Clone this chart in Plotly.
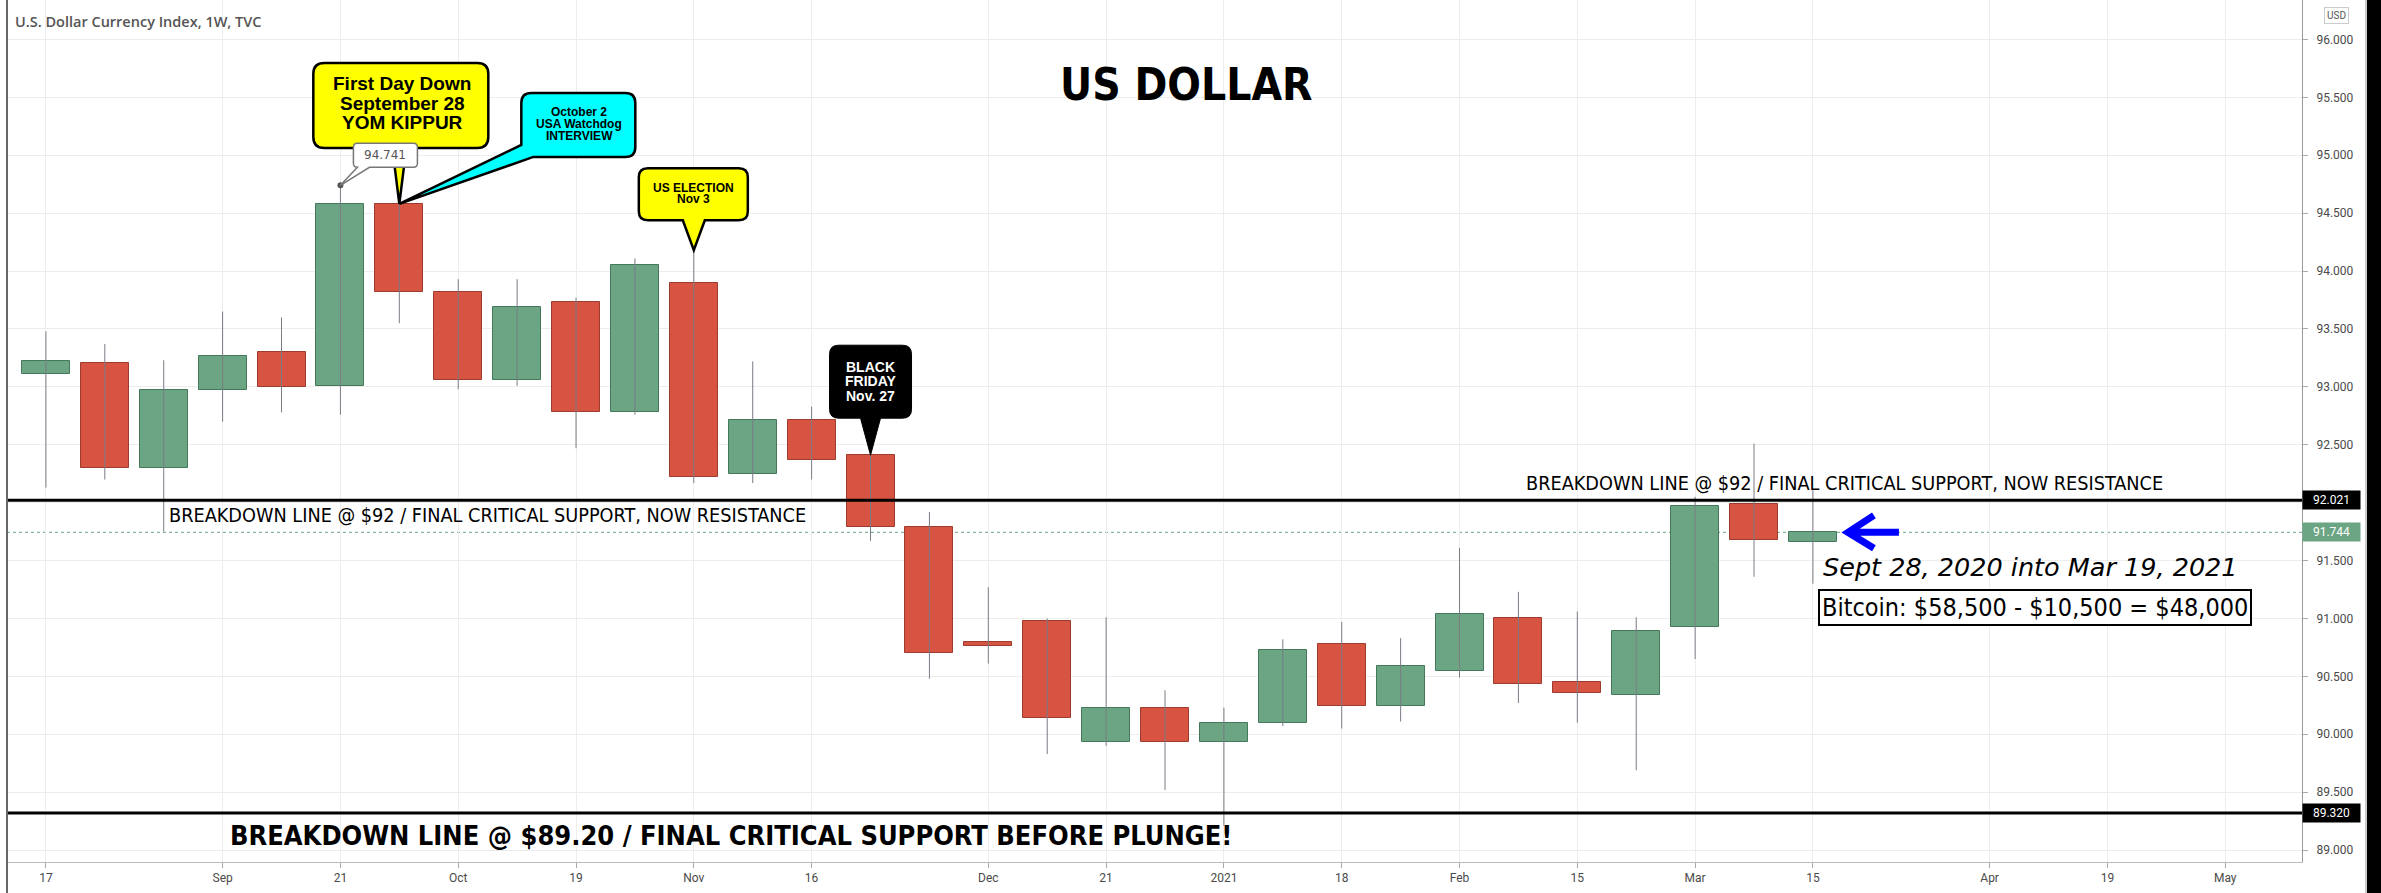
import plotly.graph_objects as go

# ---------------- data (weekly DXY candles) ----------------
dates = ['2020-08-17', '2020-08-24', '2020-08-31', '2020-09-07', '2020-09-14', '2020-09-21',
         '2020-09-28', '2020-10-05', '2020-10-12', '2020-10-19', '2020-10-26', '2020-11-02',
         '2020-11-09', '2020-11-16', '2020-11-23', '2020-11-30', '2020-12-07', '2020-12-14',
         '2020-12-21', '2020-12-28', '2021-01-04', '2021-01-11', '2021-01-18', '2021-01-25',
         '2021-02-01', '2021-02-08', '2021-02-15', '2021-02-22', '2021-03-01', '2021-03-08',
         '2021-03-15']
open_ = [93.11, 93.21, 92.30, 92.97, 93.30, 93.01, 94.58, 93.82, 93.06, 93.73, 92.78, 93.90,
         92.25, 92.71, 92.41, 91.79, 90.80, 90.98, 89.93, 90.23, 89.93, 90.10, 90.78, 90.24,
         90.55, 91.00, 90.45, 90.34, 90.93, 91.99, 91.66]
high = [93.48, 93.37, 93.23, 93.65, 93.60, 94.741, 94.60, 93.93, 93.93, 93.77, 94.11, 94.18,
        93.22, 92.83, 92.59, 91.92, 91.27, 91.00, 91.01, 90.38, 90.23, 90.82, 90.97, 90.83,
        91.61, 91.23, 91.06, 91.01, 92.05, 92.51, 92.12]
low = [92.13, 92.20, 91.75, 92.70, 92.78, 92.76, 93.55, 92.98, 93.01, 92.47, 92.76, 92.17,
       92.17, 92.20, 91.67, 90.48, 90.61, 89.83, 89.90, 89.52, 89.21, 90.07, 90.05, 90.11,
       90.49, 90.27, 90.10, 89.69, 90.65, 91.36, 91.30]
close = [93.22, 92.30, 92.97, 93.27, 93.00, 94.58, 93.82, 93.06, 93.69, 92.78, 94.05, 92.22,
         92.71, 92.37, 91.79, 90.70, 90.76, 90.14, 90.23, 89.93, 90.10, 90.73, 90.24, 90.59,
         91.04, 90.43, 90.36, 90.89, 91.97, 91.68, 91.744]

tick_dates = ['2020-08-17', '2020-09-07', '2020-09-21', '2020-10-05', '2020-10-19', '2020-11-02',
              '2020-11-16', '2020-12-07', '2020-12-21', '2021-01-04', '2021-01-18', '2021-02-01',
              '2021-02-15', '2021-03-01', '2021-03-15', '2021-04-05', '2021-04-19', '2021-05-03']
tick_text = ['17', 'Sep', '21', 'Oct', '19', 'Nov', '16', 'Dec', '21', '2021', '18', 'Feb',
             '15', 'Mar', '15', 'Apr', '19', 'May']

resistance_level = 92.021
support_level = 89.320
last_price = close[-1]

# ---------------- layout constants ----------------
W, H = 2381, 893
ML, MR, MT, MB = 7, 79, 0, 31
PW, PH = W - ML - MR, H - MT - MB

def px(x):
    return (x - ML) / PW

def py(y):
    return 1 - (y - MT) / PH

UP, DOWN = '#6BA583', '#D75442'
UP_LINE, DOWN_LINE = '#44785A', '#9E3B2F'
TVFONT = 'DejaVu Sans Condensed, DejaVu Sans, sans-serif'
ARIAL = 'Liberation Sans, Arial, sans-serif'
DAY_MS = 86400000

fig = go.Figure()

# wicks
wx, wy = [], []
for d, h, l in zip(dates, high, low):
    wx += [d, d, None]
    wy += [l, h, None]
fig.add_trace(go.Scatter(x=wx, y=wy, mode='lines', line=dict(color='#7A7C85', width=1),
                         hoverinfo='skip', showlegend=False))

# bodies
colors = [UP if c >= o else DOWN for o, c in zip(open_, close)]
lcolors = [UP_LINE if c >= o else DOWN_LINE for o, c in zip(open_, close)]
fig.add_trace(go.Bar(x=dates, y=[abs(c - o) for o, c in zip(open_, close)],
                     base=[min(o, c) for o, c in zip(open_, close)],
                     width=0.815 * 7 * DAY_MS,
                     marker=dict(color=colors, line=dict(color=lcolors, width=1)),
                     hoverinfo='skip', showlegend=False))

# peak marker dot
ipk = high.index(max(high))
fig.add_trace(go.Scatter(x=[dates[ipk]], y=[high[ipk]], mode='markers',
                         marker=dict(color='#555555', size=6), hoverinfo='skip', showlegend=False))

shapes = []
annotations = []

# horizontal levels
for lv in (resistance_level, support_level):
    shapes.append(dict(type='line', xref='paper', x0=0, x1=1, yref='y', y0=lv, y1=lv,
                       line=dict(color='black', width=3), layer='above'))
shapes.append(dict(type='line', xref='paper', x0=0, x1=1, yref='y', y0=last_price, y1=last_price,
                   line=dict(color=UP, width=1, dash='dot'), layer='below'))

# left border and right dark strip
shapes.append(dict(type='line', xref='paper', yref='paper', x0=0, x1=0, y0=py(H), y1=1,
                   line=dict(color='#666666', width=2)))
shapes.append(dict(type='rect', xref='paper', yref='paper', x0=px(2367), x1=px(2390),
                   y0=py(H + 5), y1=1.01, fillcolor='black', line=dict(width=0)))
shapes.append(dict(type='line', xref='paper', yref='paper', x0=px(2366), x1=px(2366),
                   y0=py(H), y1=1, line=dict(color='#999999', width=1)))


def callout_bottom(L, R, T, B, r, t0, t1):
    return (f"M {L + r} {-T} L {R - r} {-T} Q {R} {-T} {R} {-(T + r)} L {R} {-(B - r)} "
            f"Q {R} {-B} {R - r} {-B} L {t1} {-B} L 0 0 L {t0} {-B} L {L + r} {-B} "
            f"Q {L} {-B} {L} {-(B - r)} L {L} {-(T + r)} Q {L} {-T} {L + r} {-T} Z")


def callout_corner(L, R, T, B, r, bx, ly):
    return (f"M {L + r} {-T} L {R - r} {-T} Q {R} {-T} {R} {-(T + r)} L {R} {-(B - r)} "
            f"Q {R} {-B} {R - r} {-B} L {bx} {-B} L 0 0 L {L} {-ly} "
            f"L {L} {-(T + r)} Q {L} {-T} {L + r} {-T} Z")


def add_callout(xd, yv, path, fill, lc, lw):
    shapes.append(dict(type='path', xref='x', yref='y', xsizemode='pixel', ysizemode='pixel',
                       xanchor=xd, yanchor=yv, path=path, fillcolor=fill,
                       line=dict(color=lc, width=lw), layer='above'))


def add_lines(xd, yv, dx, dys, lines, size, color='black', bold=True, family=ARIAL):
    for dy, t in zip(dys, lines):
        annotations.append(dict(x=xd, y=yv, xref='x', yref='y', xshift=dx, yshift=-dy,
                                text=f'<b>{t}</b>' if bold else t, showarrow=False,
                                xanchor='center', yanchor='middle',
                                font=dict(family=family, size=size, color=color)))


# First Day Down (Sep 28)
i_sep28 = dates.index('2020-09-28')
tip_x, tip_y = dates[i_sep28], open_[i_sep28]
add_callout(tip_x, tip_y, callout_bottom(-86, 89, -141, -56, 11, -7, 7), '#FFFF00', 'black', 2.5)
# USA watchdog (cyan)
add_callout(tip_x, tip_y, callout_corner(122, 236, -111, -47, 10, 134, -59), '#00FFFF', 'black', 2.5)
add_lines(tip_x, tip_y, 3, [-120, -100.5, -81.5], ['First Day Down', 'September 28', 'YOM KIPPUR'], 19)
add_lines(tip_x, tip_y, 180, [-91.5, -79.5, -67.5], ['October 2', 'USA Watchdog', 'INTERVIEW'], 12)

# 94.741 label
add_callout(dates[ipk], high[ipk], callout_bottom(13, 77, -42, -18, 4, 17, 29), 'white', '#777777', 1.5)
annotations.append(dict(x=dates[ipk], y=high[ipk], xref='x', yref='y', xshift=45, yshift=30,
                        text=f'{high[ipk]:.3f}', showarrow=False, xanchor='center', yanchor='middle',
                        font=dict(family='DejaVu Sans, sans-serif', size=12, color='#555555')))

# US ELECTION (Nov 2)
i_nov = dates.index('2020-11-02')
add_callout(dates[i_nov], high[i_nov], callout_bottom(-55, 54, -82, -30, 9, -11, 11), '#FFFF00', 'black', 2.5)
add_lines(dates[i_nov], high[i_nov], 0, [-62, -51], ['US ELECTION', 'Nov 3'], 12)

# BLACK FRIDAY (Nov 23)
i_bf = dates.index('2020-11-23')
add_callout(dates[i_bf], open_[i_bf], callout_bottom(-41, 41, -110, -37, 9, -10, 10), 'black', 'black', 1)
add_lines(dates[i_bf], open_[i_bf], 0, [-88.5, -74, -59.5], ['BLACK', 'FRIDAY', 'Nov. 27'], 14, color='white')

# blue arrow next to last candle
shapes.append(dict(type='path', xref='x', yref='y', xsizemode='pixel', ysizemode='pixel',
                   xanchor=dates[-1], yanchor=last_price,
                   path='M 61 17 L 35 0 L 61 -16 M 36 0 L 86 0',
                   line=dict(color='#0000FF', width=7), layer='above'))

# free texts
def text(x, y, t, size, color='black', family=TVFONT, xanchor='left', weight=None, **kw):
    f = dict(family=family, size=size, color=color)
    if weight:
        f['weight'] = weight
    d = dict(x=px(x), y=py(y), xref='paper', yref='paper', text=t, showarrow=False,
             xanchor=xanchor, yanchor='middle', font=f)
    d.update(kw)
    annotations.append(d)

text(13, 21, 'U.S. Dollar Currency Index, 1W, TVC', 14.5, color='#555555',
     family='Open Sans, sans-serif', weight=600)
text(1058, 84, '<b>US DOLLAR</b>', 44)
text(167, 515, 'BREAKDOWN LINE @ $92 / FINAL CRITICAL SUPPORT, NOW RESISTANCE', 19.7)
text(1524, 483, 'BREAKDOWN LINE @ $92 / FINAL CRITICAL SUPPORT, NOW RESISTANCE', 19.7)
text(228, 835, '<b>BREAKDOWN LINE @ $89.20 / FINAL CRITICAL SUPPORT BEFORE PLUNGE!</b>', 27)
text(1821, 567, '<i>Sept 28, 2020 into Mar 19, 2021</i>', 25.5, family='DejaVu Sans, sans-serif')
text(2035, 607, 'Bitcoin: $58,500 - $10,500 = $48,000', 25, xanchor='center',
     bordercolor='black', borderwidth=2, borderpad=2, bgcolor='white')

# price labels on right axis
for lv, bg in ((resistance_level, 'black'), (support_level, 'black'), (last_price, UP)):
    annotations.append(dict(x=1, y=lv, xref='paper', yref='y', text=f'{lv:.3f}', showarrow=False,
                            xanchor='left', yanchor='middle', bgcolor=bg, width=55, height=16,
                            font=dict(family='Roboto, sans-serif', size=12, color='white')))
annotations.append(dict(x=px(2336), y=py(15), xref='paper', yref='paper', text='USD',
                        showarrow=False, xanchor='center', yanchor='middle',
                        bordercolor='#CCCCCC', borderwidth=1, borderpad=2,
                        font=dict(family='Roboto, sans-serif', size=10, color='#555555')))

fig.update_layout(
    width=W, height=H,
    margin=dict(l=ML, r=MR, t=MT, b=MB),
    paper_bgcolor='white', plot_bgcolor='white',
    showlegend=False, hovermode=False, bargap=0,
    shapes=shapes, annotations=annotations,
    xaxis=dict(type='date', range=['2020-08-12 09:00', '2021-05-12 03:00'],
               tickvals=tick_dates, ticktext=tick_text, showgrid=True, gridcolor='#EDEDED',
               gridwidth=1, ticks='outside', ticklen=5, tickcolor='#AAAAAA',
               showline=True, linecolor='#BBBBBB', linewidth=1, zeroline=False,
               tickfont=dict(family='Roboto, sans-serif', size=12, color='#4A4A4A'),
               fixedrange=True),
    yaxis=dict(range=[88.897, 96.341], side='right', dtick=0.5, tick0=89, tickformat='.3f',
               showgrid=True, gridcolor='#EDEDED', gridwidth=1, ticks='outside', ticklen=5,
               tickcolor='#AAAAAA', showline=True, linecolor='#999999', linewidth=1,
               zeroline=False, ticklabelstandoff=6,
               tickfont=dict(family='Roboto, sans-serif', size=12, color='#4A4A4A'),
               fixedrange=True),
)

fig.write_html('out.html', config={'displayModeBar': False},
               post_script="document.body.style.margin='0';document.body.style.overflow='hidden';")
